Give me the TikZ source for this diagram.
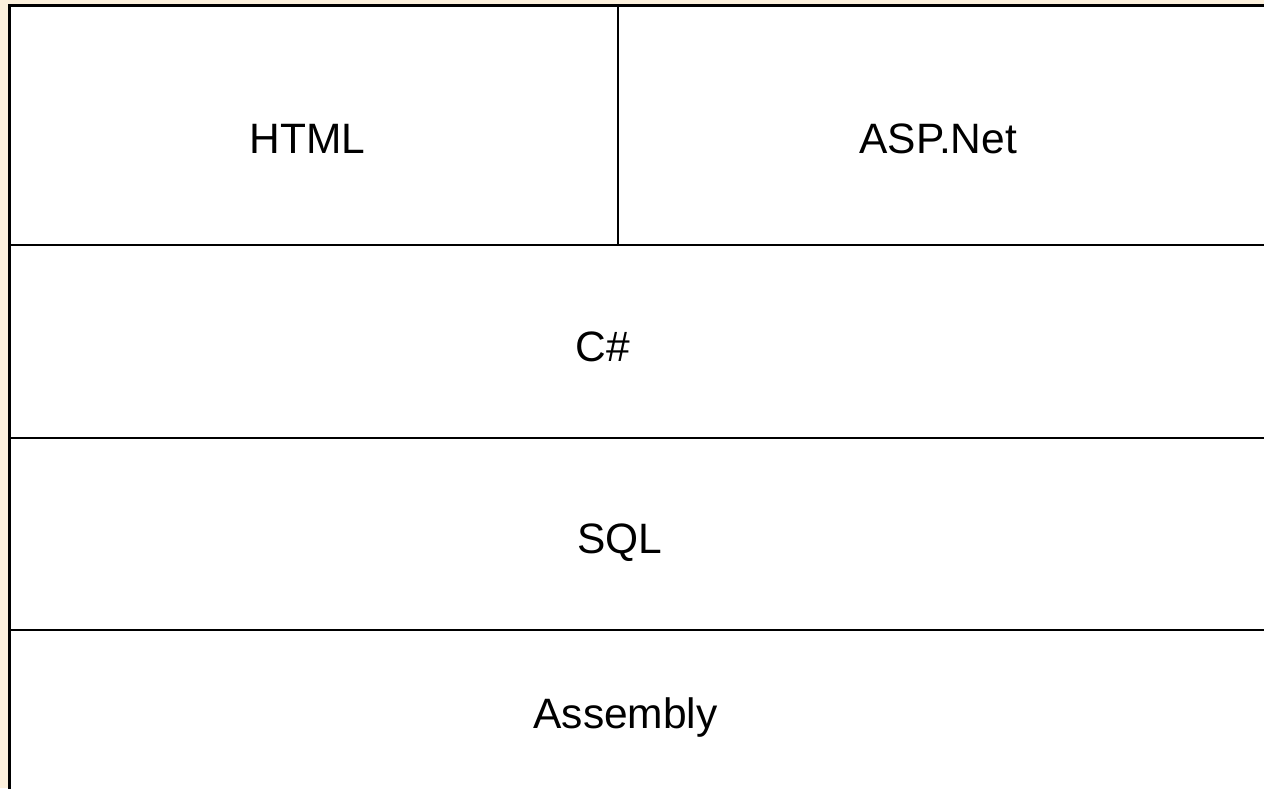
\documentclass[tikz,border=0pt]{standalone}
\usepackage{fontspec}
\setmainfont{Liberation Sans}
\definecolor{slidebg}{RGB}{252,240,220}
\begin{document}
\begin{tikzpicture}[x=0.5pt, y=-0.5pt]

    \tikzset{%
    every layer/.style={
        draw=black,
        line width=1.2pt
        },
    layer label/.style={
        anchor=base west,
        inner sep=0pt,
        font=\fontsize{21.25}{25}\selectfont
        },
    }

    \useasboundingbox (0,0) rectangle (1264,788);
    \fill [slidebg] (0,0) rectangle (1264,788);
    \clip (0,0) rectangle (1264,788);

    % White stack area
    \fill [white] (9.5,5.5) rectangle (1290,830);

    % Layer boxes
    \foreach \t/\b in {5.5/245, 245/438, 438/630, 630/830}
    \draw [every layer/.try] (9.5,\t) rectangle (1290,\b);
    \draw [every layer/.try] (618,5.5) -- (618,245);

    % Outer frame
    \draw [line width=1.5pt] (9.5,830) |- (1290,5.5);

    % Layer labels
    \foreach \n/\x/\y/\l in {html/249/153/HTML, asp/859/153/ASP.Net, csharp/575/361/C\#, sql/577/553/SQL, asm/533/728/Assembly}
    \node [layer label] (label-\n) at (\x,\y) {\l};

\end{tikzpicture}
\end{document}
